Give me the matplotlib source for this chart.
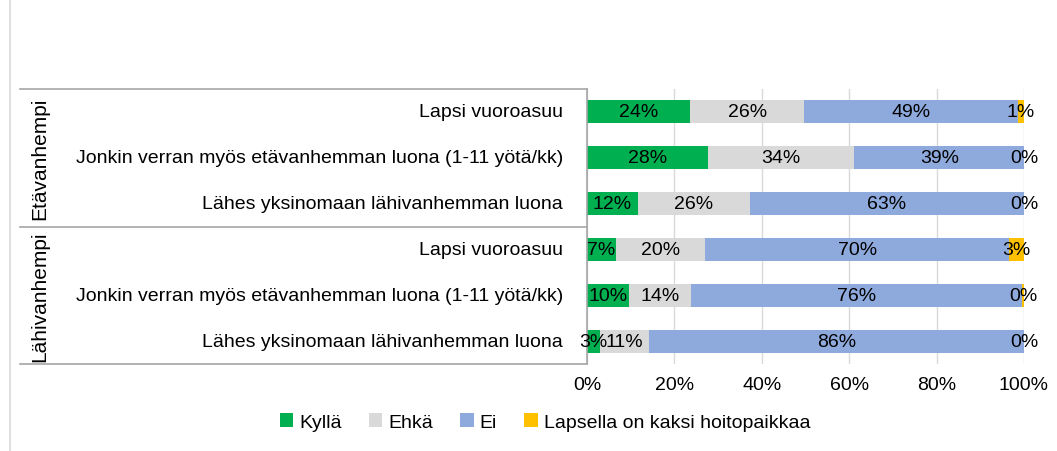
import matplotlib
matplotlib.use("Agg")
import matplotlib.pyplot as plt
from matplotlib.transforms import blended_transform_factory
from matplotlib.lines import Line2D

plt.rcParams['font.family'] = ['Liberation Sans Narrow', 'Liberation Sans', 'DejaVu Sans']

# data
rows = [
    "Lapsi vuoroasuu",
    "Jonkin verran myös etävanhemman luona (1-11 yötä/kk)",
    "Lähes yksinomaan lähivanhemman luona",
    "Lapsi vuoroasuu",
    "Jonkin verran myös etävanhemman luona (1-11 yötä/kk)",
    "Lähes yksinomaan lähivanhemman luona",
]
groups = ["Etävanhempi", "Lähivanhempi"]
series = ["Kyllä", "Ehkä", "Ei", "Lapsella on kaksi hoitopaikkaa"]
kylla = [23.6, 27.6, 11.6, 6.6, 9.6, 2.9]
ehka = [26.1, 33.6, 25.6, 20.4, 14.2, 11.3]
ei = [48.9, 38.8, 62.8, 69.6, 75.8, 85.8]
kaksi = [1.4, 0.0, 0.0, 3.4, 0.4, 0.0]
colors = ["#00B050", "#D9D9D9", "#8EA9DB", "#FFC000"]
xticks = [0, 20, 40, 60, 80, 100]

fs = 14
fig = plt.figure(figsize=(10.57, 4.52), dpi=100)
ax = fig.add_axes([587 / 1057, 1 - 365 / 452, 437 / 1057, 275 / 452])

y = list(range(len(rows)))
left = [0.0] * len(rows)
for vals, name, c in zip([kylla, ehka, ei, kaksi], series, colors):
    ax.barh(y, vals, left=left, height=0.5, color=c, label=name, zorder=2)
    for i, v in enumerate(vals):
        ax.text(left[i] + v / 2, i, f"{round(v):.0f}%", ha="center", va="center",
                fontsize=fs, color="black", zorder=3)
    left = [l + v for l, v in zip(left, vals)]

ax.set_xlim(0, 100)
ax.set_ylim(5.5, -0.5)
ax.set_xticks(xticks)
ax.set_xticklabels([f"{t}%" for t in xticks], fontsize=fs)
ax.tick_params(axis="x", length=0, pad=9)
ax.set_yticks([])
ax.grid(axis="x", color="#D9D9D9", linewidth=1, zorder=0)
for s in ["top", "right", "bottom"]:
    ax.spines[s].set_visible(False)
ax.spines["left"].set_color("#A6A6A6")
ax.spines["left"].set_linewidth(1.2)

# category labels and group boxes
tr = blended_transform_factory(fig.transFigure, ax.transData)
for i, r in enumerate(rows):
    ax.text(563 / 1057, i, r, transform=tr, ha="right", va="center", fontsize=fs)
for yy in [-0.5, 2.5, 5.5]:
    fig.add_artist(Line2D([20 / 1057, 587 / 1057], [yy, yy], transform=tr,
                          color="#A6A6A6", linewidth=1.2))
ax.text(40 / 1057, 1, groups[0], transform=tr, rotation=90, ha="center",
        va="center", fontsize=15)
ax.text(40 / 1057, 4, groups[1], transform=tr, rotation=90, ha="center",
        va="center", fontsize=15)

# outer border line at left
fig.add_artist(Line2D([10 / 1057, 10 / 1057], [0, 1], transform=fig.transFigure,
                      color="#D9D9D9", linewidth=1.2))

fig.legend(loc="center", bbox_to_anchor=(545 / 1057, 1 - 423 / 452), ncol=4,
           frameon=False, fontsize=fs, handlelength=0.7, handleheight=0.7,
           handletextpad=0.3, columnspacing=1.4)

fig.savefig("out.png", dpi=100)
